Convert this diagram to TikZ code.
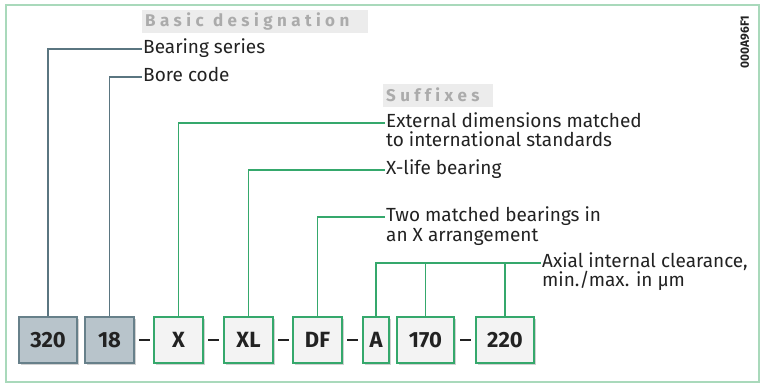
\documentclass[tikz,border=0pt]{standalone}
\usepackage{fontspec}
\setmainfont{Fira Sans}
\usetikzlibrary{shadows}
\definecolor{frame}{HTML}{A9D9BB}
\definecolor{basicfill}{HTML}{B8C4CB}
\definecolor{basicdraw}{HTML}{67808A}
\definecolor{basicline}{HTML}{5A7580}
\definecolor{grn}{HTML}{35A86C}
\definecolor{sufffill}{HTML}{F3F3F3}
\definecolor{headtxt}{HTML}{ABABAB}
\definecolor{headbg}{HTML}{ECECEC}
\definecolor{txt}{HTML}{222222}
\tikzset{
  box/.style={draw, line width=1.1pt, minimum height=46pt, inner sep=0pt,
    font=\fontsize{22}{24}\selectfont\bfseries, text=txt,
    drop shadow={shadow xshift=1.5pt, shadow yshift=-1.5pt, opacity=0.3, fill=black!60}},
  basicbox/.style={box, fill=basicfill, draw=basicdraw},
  suffbox/.style={box, fill=sufffill, draw=grn},
  dashbar/.style={inner sep=0pt, fill=txt, minimum width=11pt, minimum height=2pt},
  lbl/.style={anchor=west, inner xsep=1pt, inner ysep=0pt, text height=14.25pt, text depth=4.75pt,
    font=\fontsize{19}{20}\selectfont, text=txt},
  bline/.style={draw=basicline, line width=1.3pt},
  gline/.style={draw=grn, line width=1.3pt},
  head/.style={anchor=west, fill=headbg, minimum height=23pt, inner ysep=0pt, inner xsep=3pt, align=left,
    font=\fontsize{17}{20}\selectfont\bfseries\addfontfeatures{LetterSpace=26,Ligatures=NoCommon}, text=headtxt}
}
\begin{document}
\begin{tikzpicture}[x=1pt,y=-1pt]
\useasboundingbox (0,0) rectangle (761,384);
\draw[frame, line width=1.2pt] (6,5) rectangle (759,382);

% headings
\node[head, text width=220pt] (hbasic) at (142,21.5) {Basic\hspace{0.55em}designation};
\node[head, text width=104pt] (hsuff) at (383,95) {Suffixes};

% code
\node[rotate=90, inner sep=0pt, font=\fontsize{12}{14}\selectfont\bfseries, text=txt] (code) at (745,42) {000A96F1};

% boxes
\node[basicbox, minimum width=58pt] (b320) at (48,340) {320};
\node[basicbox, minimum width=49pt] (b18) at (109.5,340) {18};
\node[dashbar] (d1) at (144,340) {};
\node[suffbox, minimum width=49pt] (bX) at (178.5,340) {X};
\node[dashbar] (d2) at (213.5,340) {};
\node[suffbox, minimum width=49pt] (bXL) at (248.5,340) {XL};
\node[dashbar] (d3) at (283,340) {};
\node[suffbox, minimum width=49pt] (bDF) at (317.5,340) {DF};
\node[dashbar] (d4) at (352.5,340) {};
\node[suffbox, minimum width=26pt] (bA) at (376,340) {A};
\node[suffbox, minimum width=57pt] (b170) at (425.5,340) {170};
\node[dashbar] (d5) at (465,340) {};
\node[suffbox, minimum width=58pt] (b220) at (505,340) {220};

% labels
\node[lbl] (lbs) at (142,49) {Bearing series};
\node[lbl] (lbc) at (142,77) {Bore code};
\node[lbl] (lext) at (385,123) {External dimensions matched};
\node[lbl] (lext2) at (385,142) {to international standards};
\node[lbl] (lxl) at (385,170) {X-life bearing};
\node[lbl] (ltwo) at (385,217) {Two matched bearings in};
\node[lbl] (ltwo2) at (385,237) {an X arrangement};
\node[lbl] (lax) at (541,263) {Axial internal clearance,};
\node[lbl] (lax2) at (541,282) {min./max. in µm};

% connectors
\draw[bline] (b320.north) |- (lbs.west);
\draw[bline] (b18.north) |- (lbc.west);
\draw[gline] (bX.north) |- (lext.west);
\draw[gline] (bXL.north) |- (lxl.west);
\draw[gline] (bDF.north) |- (ltwo.west);
\draw[gline] (bA.north) |- (lax.west);
\draw[gline] (b170.north) -- (b170.north |- lax.west);
\draw[gline] (b220.north) -- (b220.north |- lax.west);
\end{tikzpicture}
\end{document}
